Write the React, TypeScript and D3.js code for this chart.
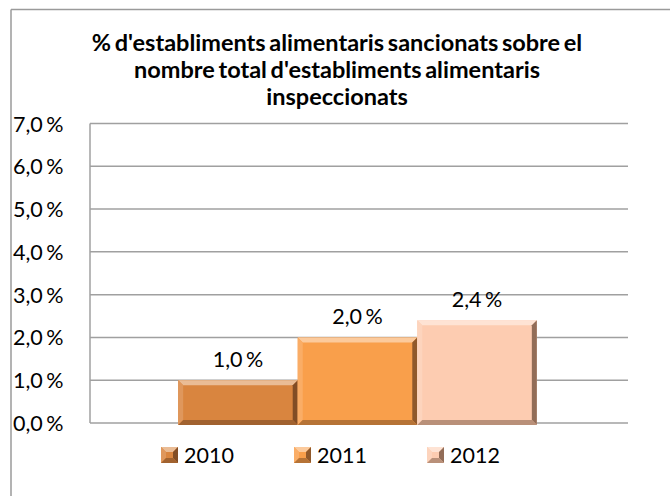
import React from "react";
import * as d3 from "d3";

const years = ["2010", "2011", "2012"];
const values = [1.0, 2.0, 2.4];
const yTicks = [0, 1, 2, 3, 4, 5, 6, 7];
const titleLines = [
  "% d'establiments alimentaris sancionats sobre el",
  "nombre total d'establiments alimentaris",
  "inspeccionats",
];
const colors = ["#D9853F", "#F99F4B", "#FDCCB1"];

const W = 670;
const H = 496;
const plot = { left: 90, right: 628, top: 123.5, bottom: 423 };
const FONT = "Lato, 'Open Sans', sans-serif";

function fmt(v: number) {
  return d3.format(".1f")(v).replace(".", ",") + " %";
}

function Bevel({ x, y, w, h, color, b }: { x: number; y: number; w: number; h: number; color: string; b: number }) {
  const c = d3.color(color)!;
  const light = d3.interpolateRgb(color, "#ffffff")(0.45);
  const lightL = d3.interpolateRgb(color, "#ffffff")(0.15);
  const dark = d3.interpolateRgb(color, "#3a2010")(0.55);
  const darkB = d3.interpolateRgb(color, "#3a2010")(0.35);
  const x2 = x + w;
  const y2 = y + h;
  const bb = Math.min(b, h / 2, w / 2);
  return (
    <g>
      <rect x={x} y={y} width={w} height={h} fill={c.toString()} />
      <polygon points={`${x},${y} ${x2},${y} ${x2 - bb},${y + bb} ${x + bb},${y + bb}`} fill={light} />
      <polygon points={`${x},${y} ${x + bb},${y + bb} ${x + bb},${y2 - bb} ${x},${y2}`} fill={lightL} />
      <polygon points={`${x2},${y} ${x2},${y2} ${x2 - bb},${y2 - bb} ${x2 - bb},${y + bb}`} fill={dark} />
      <polygon points={`${x},${y2} ${x + bb},${y2 - bb} ${x2 - bb},${y2 - bb} ${x2},${y2}`} fill={darkB} />
    </g>
  );
}

export default function App() {
  const y = d3.scaleLinear().domain([0, 7]).range([plot.bottom, plot.top]);
  const outer = d3
    .scaleBand()
    .domain(["cat"])
    .range([plot.left, plot.right])
    .paddingInner(0)
    .paddingOuter(0);
  const catStart = outer("cat")!;
  const catW = outer.bandwidth();
  // gap width 150% of bar width
  const barW = catW / (years.length + 1.5);
  const gap = (catW - barW * years.length) / 2;
  const x = d3
    .scaleBand()
    .domain(years)
    .range([catStart + gap - 1.5, catStart + catW - gap - 1.5])
    .padding(0);

  const legendX = [161, 294, 427];
  const numSize = 21.5;

  return (
    <svg width={W} height={H} style={{ position: "absolute", left: 0, top: 0 }} fontFamily={FONT}>
      <rect x={0} y={0} width={W} height={H} fill="#fff" />
      {/* outer chart border */}
      <line x1={11} y1={9.5} x2={W} y2={9.5} stroke="#9a9a9a" strokeWidth={1.5} />
      <line x1={11} y1={9.5} x2={11} y2={H} stroke="#9a9a9a" strokeWidth={1.5} />
      {/* title */}
      {titleLines.map((t, i) => (
        <text
          key={i}
          x={337}
          y={51 + i * 27}
          textAnchor="middle"
          fontWeight="bold"
          fontSize={23.5}
          wordSpacing={-2}
          fill="#000"
        >
          {t}
        </text>
      ))}
      {/* gridlines */}
      {yTicks.map((t) => (
        <line key={t} x1={plot.left} x2={plot.right} y1={y(t)} y2={y(t)} stroke="#a0a0a0" strokeWidth={1.5} />
      ))}
      <line x1={plot.left} x2={plot.left} y1={plot.top} y2={plot.bottom} stroke="#a0a0a0" strokeWidth={1.5} />
      {/* y labels */}
      {yTicks.map((t) => (
        <text key={t} x={13} y={y(t) + 8} fontSize={numSize} fill="#000" wordSpacing={-2}>
          {fmt(t)}
        </text>
      ))}
      {/* bars */}
      {years.map((yr, i) => {
        const bx = x(yr)!;
        const by = y(values[i]);
        return (
          <g key={yr}>
            <Bevel x={bx} y={by} w={x.bandwidth()} h={plot.bottom - by + 2} color={colors[i]} b={5} />
            <text
              x={bx + x.bandwidth() / 2}
              y={by - 13}
              textAnchor="middle"
              fontSize={numSize}
              fill="#000"
              wordSpacing={-2}
            >
              {fmt(values[i])}
            </text>
          </g>
        );
      })}
      {/* legend */}
      {years.map((yr, i) => (
        <g key={yr}>
          <Bevel x={legendX[i]} y={447} w={17} h={16} color={colors[i]} b={5} />
          <text x={legendX[i] + 23} y={463} fontSize={numSize} fill="#000">
            {yr}
          </text>
        </g>
      ))}
    </svg>
  );
}
